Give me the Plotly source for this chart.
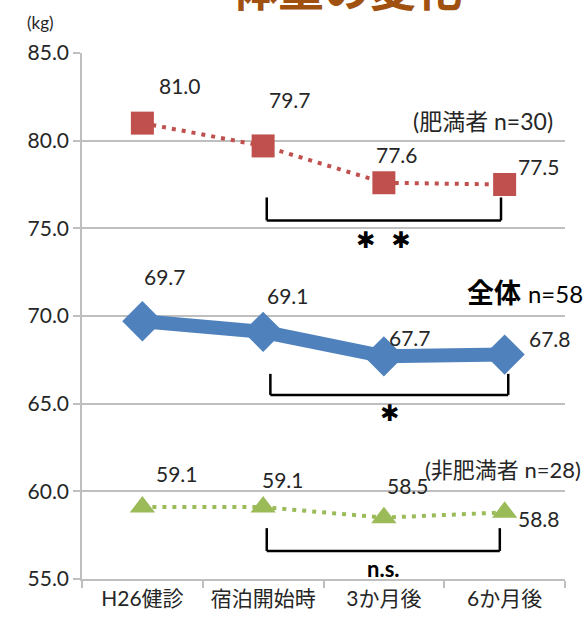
import plotly.graph_objects as go

# Measurement points and body-weight means (kg)
categories = ["H26健診", "宿泊開始時", "3か月後", "6か月後"]
obese = [81.0, 79.7, 77.6, 77.5]        # 肥満者 n=30
overall = [69.7, 69.1, 67.7, 67.8]      # 全体 n=58
non_obese = [59.1, 59.1, 58.5, 58.8]    # 非肥満者 n=28
y_ticks = [55.0, 60.0, 65.0, 70.0, 75.0, 80.0, 85.0]

RED = "#C0504D"
BLUE = "#4F81BD"
GREEN = "#9BBB59"
TXT = "#262626"
GRID = "#BFBFBF"
FONT = "Lato, 'Noto Sans CJK JP', sans-serif"
CJK = "'Noto Sans CJK JP', sans-serif"
STAR = "'DejaVu Sans', sans-serif"

fig = go.Figure()

fig.add_trace(go.Scatter(
    x=categories, y=obese, mode="lines+markers", cliponaxis=False,
    line=dict(color=RED, width=4, dash="4px,6px"),
    marker=dict(symbol="square", size=23, color=RED),
))
fig.add_trace(go.Scatter(
    x=categories, y=overall, mode="lines+markers", cliponaxis=False,
    line=dict(color=BLUE, width=14),
    marker=dict(symbol="diamond", size=31, color=BLUE),
))
fig.add_trace(go.Scatter(
    x=categories, y=non_obese, mode="lines+markers", cliponaxis=False,
    line=dict(color=GREEN, width=4, dash="4px,6px"),
    marker=dict(symbol="triangle-up", size=22, color=GREEN),
))

# value labels, offset from each marker
offsets = {
    0: [(38, 38), (27, 46), (13, 28), (34, 18)],
    1: [(23, 45), (25, 36), (26, 19), (45, 16)],
    2: [(35, 34), (20, 28), (24, 32), (34, -6)],
}
annotations = []
for s, values in enumerate([obese, overall, non_obese]):
    for i, v in enumerate(values):
        dx, dy = offsets[s][i]
        annotations.append(dict(
            x=categories[i], y=v, xref="x", yref="y", text=f"{v:.1f}",
            showarrow=False, xshift=dx, yshift=dy,
            font=dict(family=FONT, size=21, color=TXT),
        ))

# significance brackets
brackets = [
    (1.03, 2.97, 76.76, 75.45, "✱  ✱", 76.76 - 2.4, STAR, 23),
    (1.06, 3.03, 66.7, 65.5, "✱", 65.5 - 1.05, STAR, 23),
    (1.03, 2.96, 57.9, 56.6, "n.s.", 56.6 - 1.0, FONT, 22),
]
shapes = []
for x0, x1, top, bot, mark, ymark, fam, size in brackets:
    line = dict(color="black", width=2.5)
    shapes.append(dict(type="line", xref="x", yref="y", x0=x0, x1=x0, y0=top, y1=bot, line=line))
    shapes.append(dict(type="line", xref="x", yref="y", x0=x1, x1=x1, y0=top, y1=bot, line=line))
    shapes.append(dict(type="line", xref="x", yref="y", x0=x0, x1=x1, y0=bot, y1=bot, line=line))
    annotations.append(dict(
        x=(x0 + x1) / 2, y=ymark, xref="x", yref="y", text=f"<b>{mark}</b>",
        showarrow=False, font=dict(family=fam, size=size, color="black"),
    ))

# series labels
annotations += [
    dict(x=0.979, y=0.871, xref="paper", yref="paper", xanchor="right", yanchor="middle",
         text="(肥満者 n=30)", showarrow=False, font=dict(family=FONT, size=23, color=TXT)),
    dict(x=1.041, y=0.545, xref="paper", yref="paper", xanchor="right", yanchor="middle",
         text="<b>全体</b> <span style='font-size:24px'>n=58</span>", showarrow=False,
         font=dict(family=FONT, size=27, color="black")),
    dict(x=1.037, y=0.208, xref="paper", yref="paper", xanchor="right", yanchor="middle",
         text="(非肥満者 n=28)", showarrow=False, font=dict(family=FONT, size=22, color=TXT)),
    dict(x=(40 - 82) / 483, y=(581 - 22) / 528, xref="paper", yref="paper",
         xanchor="center", yanchor="middle", text="(kg)", showarrow=False,
         font=dict(family=FONT, size=17, color=TXT)),
    dict(x=(347 - 82) / 483, y=(581 + 14) / 528, xref="paper", yref="paper",
         xanchor="center", yanchor="middle", text="<b>体重の変化</b>", showarrow=False,
         font=dict(family=CJK, size=46, color="#A0500F")),
]

fig.update_layout(
    width=588, height=622,
    margin=dict(l=82, r=23, t=53, b=41),
    paper_bgcolor="white", plot_bgcolor="white",
    showlegend=False,
    annotations=annotations, shapes=shapes,
    font=dict(family=FONT, color=TXT),
)
fig.update_xaxes(
    type="category", categoryorder="array", categoryarray=categories,
    range=[-0.5, 3.5], showgrid=False, showline=True, linecolor=GRID, linewidth=1.5,
    ticks="outside", tickson="boundaries", ticklen=7, tickcolor=GRID, tickwidth=1.5,
    tickfont=dict(family=FONT, size=21, color=TXT),
)
fig.update_yaxes(
    range=[55, 85], tickvals=y_ticks, ticktext=[f"{t:.1f}" for t in y_ticks],
    showgrid=True, gridcolor=GRID, gridwidth=1.5, zeroline=False,
    showline=True, linecolor=GRID, linewidth=1.5,
    ticks="outside", ticklen=7, tickcolor=GRID, tickwidth=1.5,
    tickfont=dict(family=FONT, size=21, color=TXT),
)

fig.write_html("out.html")
